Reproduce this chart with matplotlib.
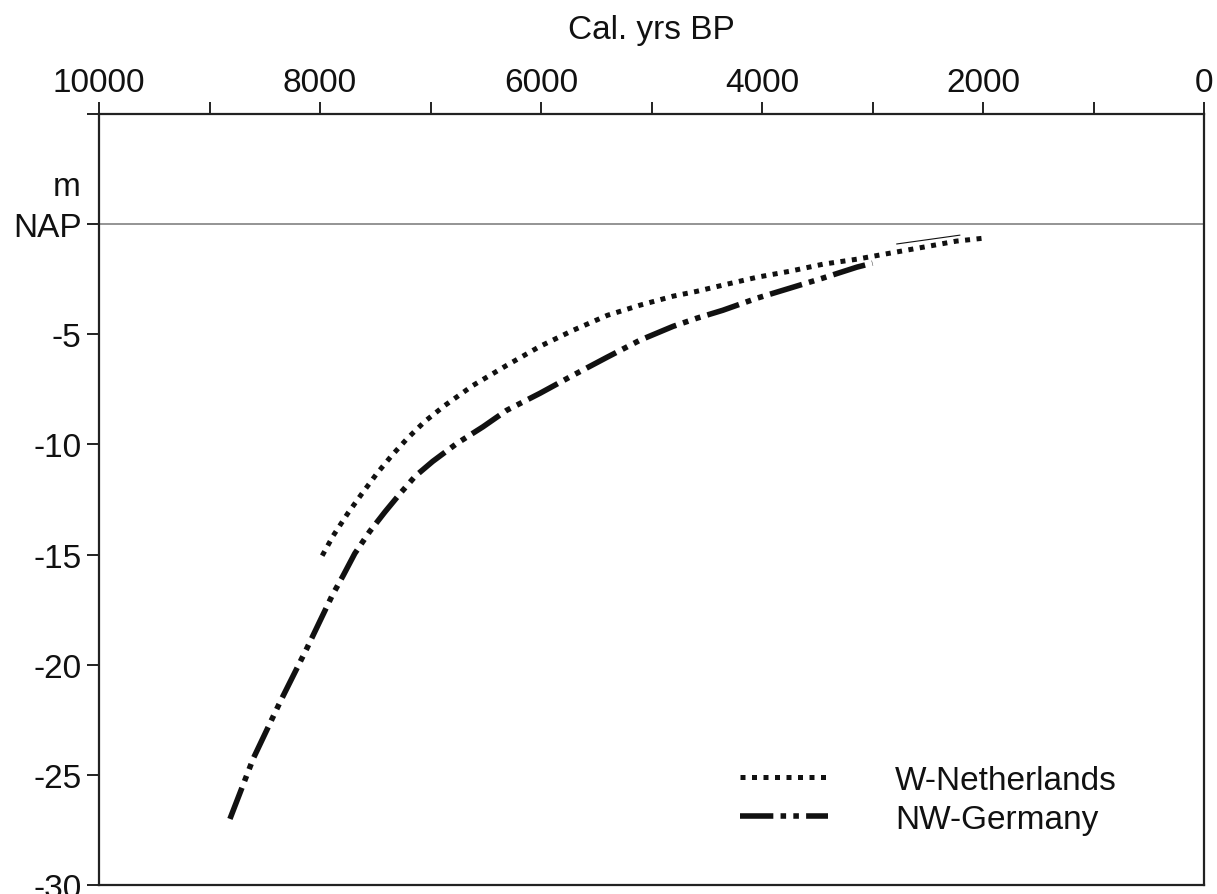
import matplotlib
matplotlib.use("Agg")
import matplotlib.pyplot as plt

plt.rcParams['font.family'] = ['Liberation Sans', 'DejaVu Sans']

# Data (cal. yrs BP, m relative to NAP)
nl_age = [7980, 7880, 7750, 7620, 7485, 7350, 7210, 7050, 6870, 6615, 6310, 6010, 5710,
          5400, 5105, 4805, 4590, 4355, 4045, 3750, 3450, 3140, 2845, 2545, 2240, 2000]
nl_depth = [-15.05, -14.14, -13.14, -12.23, -11.32, -10.5, -9.73, -8.95, -8.23, -7.32, -6.41,
            -5.55, -4.82, -4.14, -3.68, -3.27, -3.05, -2.77, -2.41, -2.14, -1.82, -1.59,
            -1.32, -1.05, -0.77, -0.64]

de_age = [8815, 8605, 8360, 8120, 7890, 7790, 7685, 7550, 7410, 7275, 7140, 6980, 6760,
          6525, 6310, 6010, 5710, 5405, 5105, 4805, 4590, 4355, 4045, 3750, 3450, 3140, 3000]
de_depth = [-27.0, -24.27, -21.68, -19.27, -16.86, -15.95, -14.95, -13.95, -13.05, -12.23,
            -11.45, -10.77, -9.95, -9.2, -8.45, -7.68, -6.86, -6.05, -5.27, -4.64, -4.27,
            -3.91, -3.36, -2.91, -2.45, -1.95, -1.77]

thin_age = [2780, 2210]
thin_depth = [-0.9, -0.5]

x_ticks = list(range(0, 10001, 1000))
x_labels = {10000: '10000', 8000: '8000', 6000: '6000', 4000: '4000', 2000: '2000', 0: '0'}
y_ticks = [5, 0, -5, -10, -15, -20, -25, -30]
y_labels = ['', 'NAP', '-5', '-10', '-15', '-20', '-25', '-30']

W, H = 1217, 895
FS = 24
fig = plt.figure(figsize=(W / 100, H / 100), dpi=100)
ax = fig.add_axes([99 / W, 1 - 886 / H, (1204 - 99) / W, (886 - 115) / H])

ax.set_xlim(10000, 0)
ax.set_ylim(-30, 5)

ax.axhline(0, color='#777777', lw=1.1, zorder=1)

ax.plot(nl_age, nl_depth, color='#111111', lw=3.6, linestyle=(0, (1.0, 1.3)),
        dash_capstyle='butt', solid_capstyle='butt', label='W-Netherlands')
ax.plot(de_age, de_depth, color='#111111', lw=4.0,
        linestyle=(0, (6.0, 1.3, 1.0, 1.3, 1.0, 1.3)),
        dash_capstyle='butt', label='NW-Germany')
ax.plot(thin_age, thin_depth, color='#111111', lw=0.8)

# axes styling
ax.xaxis.set_ticks_position('top')
ax.xaxis.set_label_position('top')
ax.set_xticks(x_ticks)
ax.set_xticklabels([x_labels.get(t, '') for t in x_ticks])
ax.set_yticks(y_ticks)
ax.set_yticklabels(y_labels)
ax.tick_params(axis='x', direction='out', length=8.6, width=1.4, pad=3,
               labelsize=FS, colors='#222222', labelcolor='#111111')
ax.tick_params(axis='y', direction='out', length=8.6, width=1.4, pad=4,
               labelsize=FS, colors='#222222', labelcolor='#111111')
for s in ax.spines.values():
    s.set_linewidth(1.6)
    s.set_color('#222222')

ax.text(-0.017, (1.7 + 30) / 35, 'm', transform=ax.transAxes, ha='right', va='center',
        fontsize=FS, color='#111111')

fig.text(651.5 / W, 1 - 31 / H, 'Cal. yrs BP', ha='center', va='center',
         fontsize=FS, color='#111111')

leg = ax.legend(loc='lower left', bbox_to_anchor=((740 - 99) / (1204 - 99), (886 - 836) / (886 - 115)),
                frameon=False, fontsize=FS, handlelength=2.65, handletextpad=2.0,
                labelspacing=0.25, borderaxespad=0, borderpad=0)
for t in leg.get_texts():
    t.set_color('#111111')

fig.savefig('out.png', dpi=100, facecolor='white')
